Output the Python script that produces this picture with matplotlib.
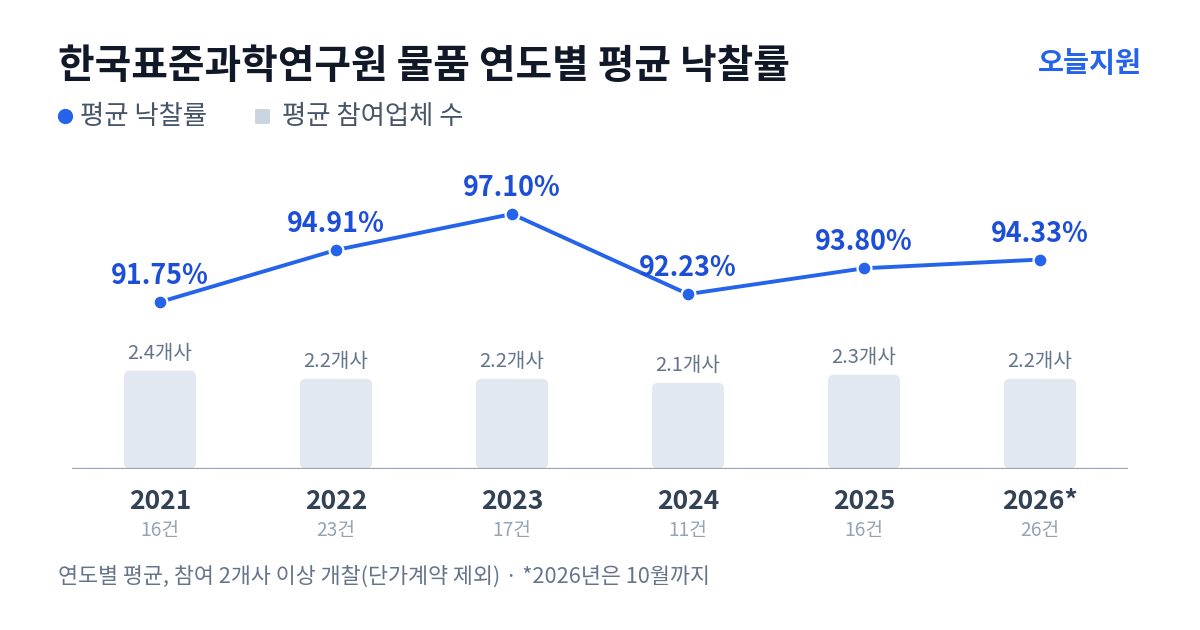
import matplotlib
matplotlib.use("Agg")
import matplotlib.pyplot as plt
from matplotlib.patches import FancyBboxPatch
from matplotlib.lines import Line2D

plt.rcParams['font.family'] = ['Noto Sans CJK KR', 'DejaVu Sans']

years = ["2021", "2022", "2023", "2024", "2025", "2026*"]
counts = ["16건", "23건", "17건", "11건", "16건", "26건"]
rates = [91.75, 94.91, 97.10, 92.23, 93.80, 94.33]
bidders = [2.4, 2.2, 2.2, 2.1, 2.3, 2.2]

BLUE = "#2563EB"
BLUE_DARK = "#1D4ED8"
BAR = "#E2E8F0"
AXIS = "#94A3B8"
SLATE = "#64748B"
DARK = "#334155"
TITLE = "#111827"

W, H = 1200, 630
fig = plt.figure(figsize=(12, 6.3), dpi=100)

# plot area in pixels (from bottom-left)
left, bottom, width, height = 72, 161, 1056, 400
ax = fig.add_axes([left / W, bottom / H, width / W, height / H])
ax.set_xlim(-0.5, len(years) - 0.5)
ax.set_ylim(0, height / 41.0)
ax.axis('off')

# bars with rounded corners
bw = 72 / 176
r_x = 6 / 176
aspect = 176 / 41
for i, v in enumerate(bidders):
    p = FancyBboxPatch((i - bw / 2, 0), bw, v,
                       boxstyle=f"round,pad=0,rounding_size={r_x}",
                       mutation_aspect=aspect, fc=BAR, ec="none", zorder=1)
    ax.add_patch(p)
    ax.annotate(f"{v}개사", (i, v), xytext=(0, 5), textcoords="offset points",
                ha="center", va="bottom", fontsize=14.5, color=SLATE)

ax.axhline(0, color=AXIS, lw=1.6, zorder=2)

for i, (y, c) in enumerate(zip(years, counts)):
    ax.annotate(y, (i, 0), xytext=(0, -14), textcoords="offset points",
                ha="center", va="top", fontsize=19, fontweight="bold", color=DARK)
    ax.annotate(c, (i, 0), xytext=(0, -37), textcoords="offset points",
                ha="center", va="top", fontsize=13.8, color=AXIS)

# line for rates
ax2 = fig.add_axes(ax.get_position(), sharex=ax)
ax2.patch.set_visible(False)
ax2.axis('off')
lo = 91.75 - (328 - 161) / 16.45
ax2.set_ylim(lo, lo + height / 16.45)
xs = list(range(len(rates)))
ax2.plot(xs, rates, color=BLUE, lw=2.8, zorder=3, solid_capstyle="round")
ax2.plot(xs, rates, "o", color=BLUE, ms=10, mec="white", mew=1.6, zorder=4)
for i, v in enumerate(rates):
    ax2.annotate(f"{v:.2f}%", (i, v), xytext=(0, 8.5), textcoords="offset points",
                 ha="center", va="bottom", fontsize=19.3, fontweight="bold",
                 color=BLUE_DARK)

# title and header
fig.text(58 / W, 1 - 67 / H, "한국표준과학연구원 물품 연도별 평균 낙찰률",
         fontsize=28.7, fontweight="bold", color=TITLE, va="center", ha="left")
fig.text(1142 / W, 1 - 64 / H, "오늘지원", fontsize=20.4, fontweight="bold",
         color=BLUE, va="center", ha="right")

# legend
fig.add_artist(Line2D([65 / W], [1 - 116 / H], marker="o", ms=11, color=BLUE,
                      mec="none", transform=fig.transFigure))
fig.text(80 / W, 1 - 116 / H, "평균 낙찰률", fontsize=19, color="#475569",
         va="center", ha="left")
fig.patches.append(FancyBboxPatch((255 / W, 1 - 124 / H), 15 / W, 15 / H,
                                  boxstyle="round,pad=0,rounding_size=0.002",
                                  transform=fig.transFigure, fc="#CBD5E1", ec="none"))
fig.text(282 / W, 1 - 116 / H, "평균 참여업체 수", fontsize=19, color="#475569",
         va="center", ha="left")

# footer
fig.text(58 / W, 1 - 577 / H,
         "연도별 평균, 참여 2개사 이상 개찰(단가계약 제외) · *2026년은 10월까지",
         fontsize=15.7, color=SLATE, va="center", ha="left")

fig.savefig("out.png", dpi=100, facecolor="white")
